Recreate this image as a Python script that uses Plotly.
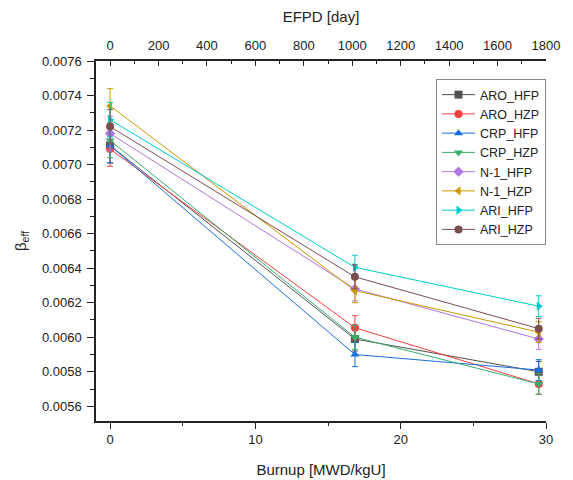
import plotly.graph_objects as go

burnup = [0, 16.85, 29.5]
efpd = [0, 1011, 1770]

names = ["ARO_HFP", "ARO_HZP", "CRP_HFP", "CRP_HZP", "N-1_HFP", "N-1_HZP", "ARI_HFP", "ARI_HZP"]
aro_hfp = [0.007110, 0.005990, 0.005800]
aro_hzp = [0.007090, 0.006055, 0.005730]
crp_hfp = [0.007110, 0.005900, 0.005810]
crp_hzp = [0.007140, 0.006000, 0.005730]
n1_hfp = [0.007180, 0.006280, 0.005990]
n1_hzp = [0.007340, 0.006270, 0.006030]
ari_hfp = [0.007260, 0.006405, 0.006180]
ari_hzp = [0.007220, 0.006350, 0.006050]
series = [aro_hfp, aro_hzp, crp_hfp, crp_hzp, n1_hfp, n1_hzp, ari_hfp, ari_hzp]

err = [0.00010, 0.00007, 0.00006]

colors = ["#515151", "#F14040", "#1A6FDF", "#37AD6B", "#B177DE", "#CC9900", "#00CBCC", "#7D4E4E"]
symbols = ["square", "circle", "triangle-up", "triangle-down", "diamond", "triangle-left", "triangle-right", "circle"]

fig = go.Figure()
for n, s, c, m in zip(names, series, colors, symbols):
    fig.add_trace(go.Scatter(
        x=burnup, y=s, name=n, mode="lines+markers",
        line=dict(color=c, width=1),
        marker=dict(symbol=m, color=c, size=8),
        error_y=dict(type="data", array=err, color=c, thickness=1, width=3),
        xaxis="x", yaxis="y",
    ))

# invisible trace to anchor the top EFPD axis
fig.add_trace(go.Scatter(x=efpd, y=ari_hfp, xaxis="x2", yaxis="y", mode="markers",
                         marker=dict(opacity=0), showlegend=False, hoverinfo="skip"))

font = dict(family="Liberation Sans, Arial, sans-serif", size=13, color="#222")

# the page body adds an 8px offset, so the figure is 8px smaller on each axis
fig.update_layout(
    width=565, height=472,
    margin=dict(l=88, r=27, t=53, b=59, autoexpand=False),
    paper_bgcolor="white", plot_bgcolor="white",
    font=font,
    xaxis=dict(
        range=[-0.97, 30], tickvals=[0, 10, 20, 30], showgrid=False, zeroline=False,
        showline=True, linecolor="#222", linewidth=1.5, ticks="outside", ticklen=6,
        tickcolor="#222", automargin=False,
        minor=dict(tickvals=[5, 15, 25], ticks="outside", ticklen=3, tickcolor="#222"),
        title=dict(text="Burnup [MWD/kgU]", font=dict(size=15), standoff=18),
        tickfont=dict(size=13),
    ),
    xaxis2=dict(
        overlaying="x", side="top", anchor="y", automargin=False,
        range=[-58.2, 1800], tickvals=list(range(0, 1801, 200)), showgrid=False, zeroline=False,
        showline=True, linecolor="#222", linewidth=1.5, ticks="inside", ticklen=5, tickcolor="#222",
        minor=dict(tickvals=list(range(100, 1800, 200)), ticks="inside", ticklen=3, tickcolor="#222"),
        title=dict(text="EFPD [day]", font=dict(size=15), standoff=19),
        tickfont=dict(size=13), ticklabelstandoff=4,
    ),
    yaxis=dict(
        range=[0.005515, 0.0076], tickvals=[0.0056 + 0.0002 * i for i in range(11)],
        tickformat=".4f", showgrid=False, zeroline=False, automargin=False,
        showline=True, linecolor="#222", linewidth=1.5, ticks="outside", ticklen=7, tickcolor="#222",
        minor=dict(tickvals=[0.0057 + 0.0002 * i for i in range(10)], ticks="outside", ticklen=4, tickcolor="#222"),
        title=dict(text="β<sub>eff</sub>", font=dict(size=15), standoff=12),
        tickfont=dict(size=13), ticklabelstandoff=3,
    ),
    legend=dict(
        x=1, xanchor="right", y=0.95, yanchor="top",
        bordercolor="#888", borderwidth=1, bgcolor="white",
        font=dict(size=12.5), tracegroupgap=0, itemwidth=33,
    ),
    showlegend=True,
)

fig.write_html("out.html")
